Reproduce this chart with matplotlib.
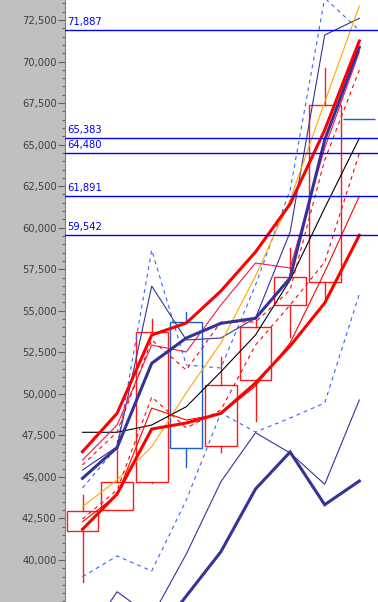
import matplotlib
matplotlib.use("Agg")

import matplotlib.pyplot as plt
from matplotlib.patches import Rectangle
from matplotlib.ticker import MultipleLocator, FuncFormatter
from matplotlib.transforms import blended_transform_factory
import numpy as np

# ------------------------------------------------------------------ data --
opens = [41743, 43007, 44710, 54305, 46859, 50814, 55346, 56712, 66541]
closes = [42929, 44710, 53703, 46721, 50513, 54004, 57031, 67366, 66541]
highs = [43910, 47220, 54503, 54925, 52216, 54443, 58777, 69593, 66541]
lows = [38691, 43007, 44632, 45613, 46516, 48382, 53402, 55767, 66541]

band_upper = [46516, 48827, 53540, 54262, 56189, 58536, 61425, 65879, 71236]
band_mid = [44915, 46769, 51837, 53360, 54244, 54545, 56971, 65277, 70857]
band_lower = [41845, 43970, 47882, 48243, 48827, 50651, 52878, 55466, 59542]

navy_thin_hi = [45414, 46817, 56489, 53239, 53360, 54563, 59740, 71597, 72602]
navy_thin_lo = [35002, 38089, 36567, 40359, 44710, 47660, 46438, 44554, 49628]
navy_thick_lo = [34500, 34800, 35122, 37831, 40497, 44271, 46498, 43326, 44752]

dash_hi = [44331, 46799, 58656, 51734, 51554, 56550, 62268, 73824, 71887]
dash_lo = [38992, 40238, 39335, 43609, 48845, 47702, 48544, 49447, 56008]

orange_line = [43206, 44813, 46817, 50067, 53059, 57091, 61666, 67564, 73343]
black_line = [47684, 47684, 48123, 49225, 51331, 53540, 56851, 61184, 65383]
crimson_line = [46016, 48123, 52938, 52517, 55346, 57874, 57573, 64796, 70574]
red_thin = [42303, 43910, 49146, 48424, 48785, 50470, 53059, 57332, 61891]
red_dash_lo = [42465, 44211, 49808, 47942, 49026, 52938, 55346, 57934, 64480]
red_dash_hi = [45715, 47702, 53239, 51433, 54323, 54323, 56249, 64073, 69490]

levels = [71887, 65383, 64480, 61891, 59542]

# ---------------------------------------------------------------- palette --
AXIS_BG = "#c0c0c0"
TICK_TEXT = "#404040"
LEVEL_BLUE = "#0000ff"
UP_RED = "#ff1a1a"
DOWN_BLUE = "#1a5fd0"
RED = "#ff0000"
NAVY = "#33339a"
DASH_BLUE = "#3366ff"
ORANGE = "#ffa500"
CRIMSON = "#ff1050"

THIN = 0.8   # points, about 1px at dpi 100
THICK = 2.2  # about 3px
FONT = "DejaVu Sans"

fig = plt.figure(figsize=(3.78, 6.02), dpi=100)
fig.patch.set_facecolor(AXIS_BG)
ax = fig.add_axes([65 / 378, 0, 313 / 378, 1])
ax.set_facecolor("white")

x = np.arange(len(opens))
ax.set_xlim(-0.506, 8.54)
ax.set_ylim(37469, 73704)


def line(vals, color, lw=THIN, dashed=False, z=3):
    ls = (0, (3.5, 3.5)) if dashed else "-"
    ax.plot(x, vals, color=color, lw=lw, linestyle=ls, zorder=z,
            solid_joinstyle="miter")


# --------------------------------------------------------------- candles --
w = 0.92
for i in range(len(opens)):
    o, c, h, l = opens[i], closes[i], highs[i], lows[i]
    col = UP_RED if c > o else DOWN_BLUE
    top, bot = max(o, c), min(o, c)
    if h > top:
        ax.plot([i, i], [top, h], color=col, lw=1.0, zorder=2)
    if l < bot:
        ax.plot([i, i], [l, bot], color=col, lw=1.0, zorder=2)
    ax.add_patch(Rectangle((i - w / 2, bot), w, top - bot, fill=False,
                           edgecolor=col, lw=1.0, zorder=2))

# ----------------------------------------------------------------- lines --
line(dash_hi, DASH_BLUE, dashed=True)
line(dash_lo, DASH_BLUE, dashed=True)
line(navy_thin_hi, NAVY)
line(navy_thin_lo, NAVY)
line(orange_line, ORANGE)
line(black_line, "black")
line(crimson_line, CRIMSON)
line(red_thin, RED)
line(red_dash_lo, RED, dashed=True)
line(red_dash_hi, RED, dashed=True)
line(navy_thick_lo, NAVY, lw=THICK, z=4)
line(band_mid, NAVY, lw=THICK, z=4)
line(band_upper, RED, lw=THICK, z=4)
line(band_lower, RED, lw=THICK, z=4)

# level markers with their values written above the left end
trans = blended_transform_factory(ax.transAxes, ax.transData)
for v in levels:
    ax.axhline(v, color=LEVEL_BLUE, lw=1.0, zorder=5)
    ax.annotate(f"{v:,}", xy=(0.006, v), xycoords=trans,
                xytext=(0, 6), textcoords="offset points",
                color=LEVEL_BLUE, fontsize=7.2, family=FONT,
                ha="left", va="center", zorder=6)

# ------------------------------------------------------------------ axes --
ax.set_yticks(np.arange(40000, 72501, 2500))
ax.yaxis.set_minor_locator(MultipleLocator(500))
ax.yaxis.set_major_formatter(FuncFormatter(lambda v, _: f"{v:,.0f}"))
ax.tick_params(axis="y", which="major", direction="out", length=5,
               width=0.8, color="#606060", labelcolor=TICK_TEXT,
               labelsize=7.2, pad=1)
ax.tick_params(axis="y", which="minor", direction="out", length=2.2,
               width=0.8, color="#606060")
for lab in ax.get_yticklabels():
    lab.set_family(FONT)
ax.set_xticks([])
for s in ("top", "right", "bottom"):
    ax.spines[s].set_visible(False)
ax.spines["left"].set_color("#808080")
ax.spines["left"].set_linewidth(0.8)

fig.savefig("out.png", dpi=100, facecolor=AXIS_BG)
